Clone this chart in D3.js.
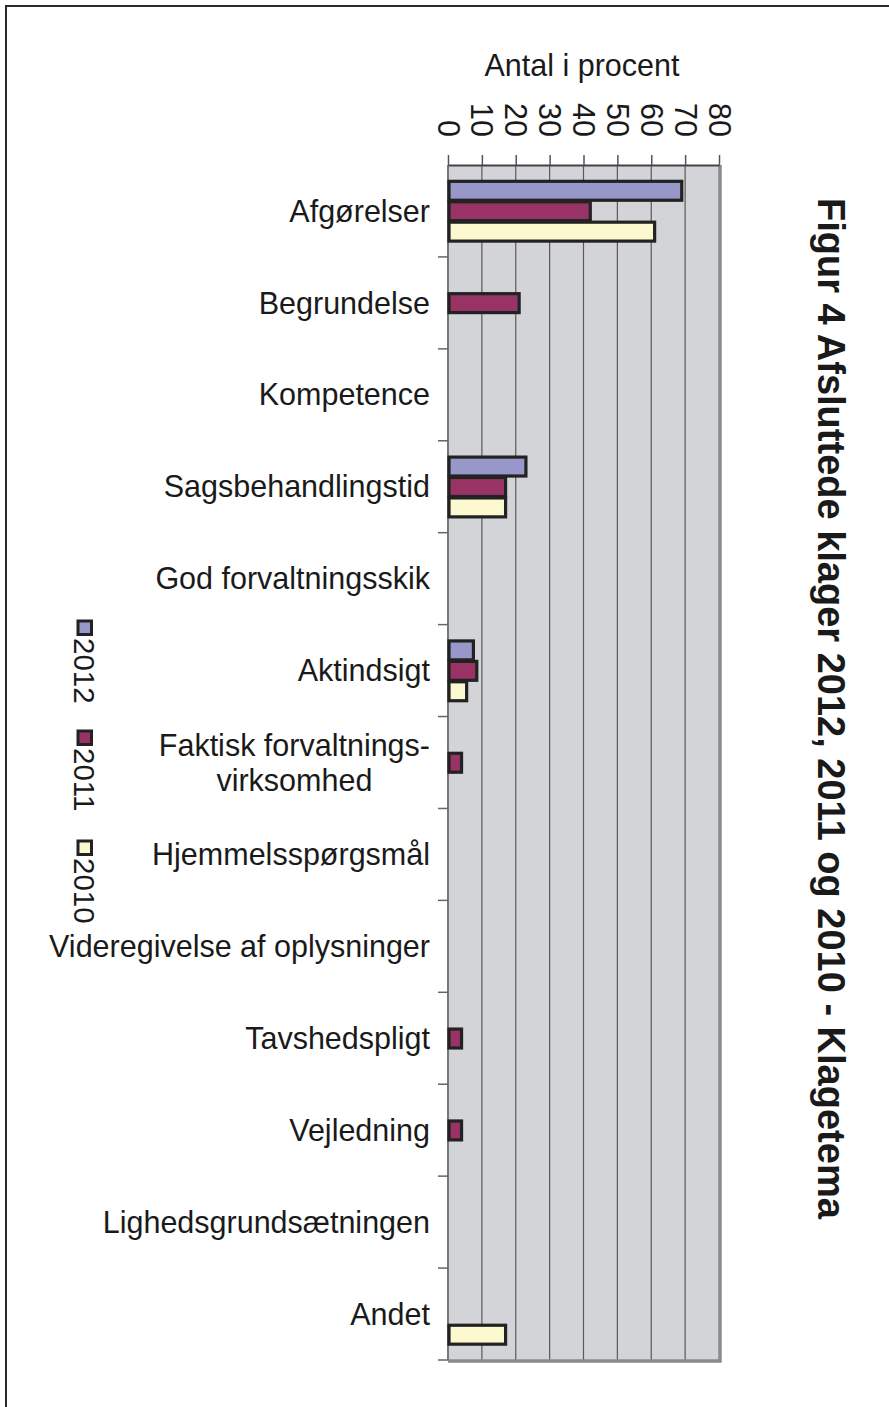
<!DOCTYPE html>
<html>
<head>
<meta charset="utf-8">
<script src="https://cdn.jsdelivr.net/npm/d3@7"></script>
<style>
  body { margin: 0; background: #fff; }
  text { font-family: "Liberation Sans", Arial, sans-serif; fill: #1a1a1a; }
</style>
</head>
<body>
<script>
const categories = ['Afgørelser', 'Begrundelse', 'Kompetence', 'Sagsbehandlingstid', 'God forvaltningsskik',
  'Aktindsigt', 'Faktisk forvaltnings-|virksomhed', 'Hjemmelsspørgsmål', 'Videregivelse af oplysninger',
  'Tavshedspligt', 'Vejledning', 'Lighedsgrundsætningen', 'Andet']
const series = ['2012', '2011', '2010']
const values2012 = [69, 0, 0, 23, 0, 7.5, 0, 0, 0, 0, 0, 0, 0]
const values2011 = [42, 21, 0, 17, 0, 8.5, 4, 0, 0, 4, 4, 0, 0]
const values2010 = [61, 0, 0, 17, 0, 5.5, 0, 0, 0, 0, 0, 0, 17]
const tickValues = [0, 10, 20, 30, 40, 50, 60, 70, 80]
const colors = ['#9797c9', '#993366', '#fcf9d0']

const width = 889
const height = 1407
const plot = { left: 448, right: 719, top: 165, bottom: 1360 }
const fs = 30.5

const svg = d3.select('body').append('svg').attr('width', width).attr('height', height)

// outer frame (runs off right and bottom)
svg.append('path').attr('d', 'M6,' + height + ' V6 H' + width)
  .attr('fill', 'none').attr('stroke', '#2a2a2a').attr('stroke-width', 2)

const x = d3.scaleLinear().domain([0, 80]).range([plot.left, plot.right])
const y = d3.scaleBand().domain(categories).range([plot.top, plot.bottom]).padding(0)
const ySub = d3.scaleBand().domain(series)
  .range([y.bandwidth() / 6, y.bandwidth() * 5 / 6]).padding(0)

// plot background
svg.append('rect').attr('x', plot.left).attr('y', plot.top)
  .attr('width', plot.right - plot.left).attr('height', plot.bottom - plot.top)
  .attr('fill', '#d3d4d8')

// gridlines
svg.append('g').selectAll('line').data(tickValues.slice(1, -1)).join('line')
  .attr('x1', d => x(d)).attr('x2', d => x(d))
  .attr('y1', plot.top).attr('y2', plot.bottom)
  .attr('stroke', '#5a5a5a').attr('stroke-width', 1.2)

// shadow borders right + bottom
svg.append('path')
  .attr('d', 'M' + (plot.right + 1) + ',' + plot.top + ' V' + (plot.bottom + 1) + ' H' + plot.left)
  .attr('fill', 'none').attr('stroke', '#8a8a8a').attr('stroke-width', 3.5)

// left axis line and ticks at band edges
svg.append('line').attr('x1', plot.left).attr('x2', plot.left)
  .attr('y1', plot.top).attr('y2', plot.bottom).attr('stroke', '#777').attr('stroke-width', 2)
const edges = categories.map(c => y(c)).slice(1).concat([plot.bottom])
svg.append('g').selectAll('line').data(edges).join('line')
  .attr('x1', plot.left - 10).attr('x2', plot.left)
  .attr('y1', d => d).attr('y2', d => d)
  .attr('stroke', '#666').attr('stroke-width', 1.5)

// top axis
const xAxis = d3.axisTop(x).tickValues(tickValues).tickSize(10).tickSizeOuter(0)
const axisG = svg.append('g').attr('transform', 'translate(0,' + plot.top + ')').call(xAxis)
axisG.select('.domain').attr('stroke', '#444').attr('stroke-width', 2)
axisG.selectAll('.tick line').attr('stroke', '#555').attr('stroke-width', 1.5)
axisG.selectAll('.tick text')
  .attr('x', null).attr('y', null).attr('dy', '0.36em')
  .attr('transform', 'translate(0,-28) rotate(90)')
  .attr('text-anchor', 'end')
  .attr('font-size', fs).attr('fill', '#1a1a1a')

svg.append('text').attr('x', 582).attr('y', 76).attr('text-anchor', 'middle')
  .attr('font-size', fs).text('Antal i procent')

// bars
const allValues = [values2012, values2011, values2010]
const groups = svg.append('g').selectAll('g').data(categories).join('g')
  .attr('transform', d => 'translate(0,' + y(d) + ')')
groups.selectAll('rect')
  .data((c, i) => series.map((s, j) => ({ s: s, v: allValues[j][i], color: colors[j] })).filter(d => d.v > 0))
  .join('rect')
  .attr('x', x(0) + 1)
  .attr('y', d => ySub(d.s) + 1)
  .attr('width', d => x(d.v) - x(0) - 1)
  .attr('height', ySub.bandwidth() - 1.5)
  .attr('fill', d => d.color)
  .attr('stroke', '#222').attr('stroke-width', 3.2)

// category labels (multi-line labels centred on their widest line)
const labels = svg.append('g')
categories.forEach(c => {
  const lines = c.split('|')
  const cy = y(c) + y.bandwidth() / 2
  const lh = 35
  const t = labels.append('text').attr('font-size', fs)
  lines.forEach((ln, k) => {
    t.append('tspan').attr('y', cy + (k - (lines.length - 1) / 2) * lh).attr('dy', '0.35em').text(ln)
  })
  const widths = []
  t.selectAll('tspan').each(function() { widths.push(this.getComputedTextLength()) })
  const maxW = d3.max(widths)
  const rightX = plot.left - 18
  t.attr('text-anchor', 'middle').selectAll('tspan').attr('x', rightX - maxW / 2)
})

// legend
const legend = svg.append('g').selectAll('g').data(series).join('g')
  .attr('transform', (d, i) => 'translate(74,' + (620 + i * 110) + ') rotate(90)')
legend.append('rect').attr('x', 1).attr('y', -17.5).attr('width', 13.5).attr('height', 13.5)
  .attr('fill', (d, i) => colors[i]).attr('stroke', '#222').attr('stroke-width', 3)
legend.append('text').attr('x', 18).attr('y', 0).attr('font-size', 29.5).text(d => d)

// title
svg.append('text').attr('transform', 'translate(818,198) rotate(90)')
  .attr('font-size', 38).attr('font-weight', 'bold')
  .text('Figur 4 Afsluttede klager 2012, 2011 og 2010 - Klagetema')
</script>
</body>
</html>
